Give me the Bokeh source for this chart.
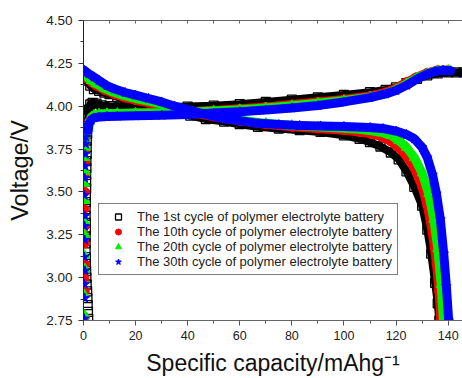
from bokeh.plotting import figure
from bokeh.models import Range1d, FixedTicker, LinearAxis, Legend, LegendItem
from bokeh.embed import file_html
from bokeh.resources import INLINE

# ---------------- data ----------------
x_ticks = [0, 20, 40, 60, 80, 100, 120, 140]
x_minor = [10, 30, 50, 70, 90, 110, 130]
y_ticks = [2.75, 3.00, 3.25, 3.50, 3.75, 4.00, 4.25, 4.50]
y_minor = [2.875, 3.125, 3.375, 3.625, 3.875, 4.125, 4.375]
y_tick_labels = ["2.75", "3.00", "3.25", "3.50", "3.75", "4.00", "4.25", "4.50"]

x_title = "Specific capacity/mAhg\u207b\u00b9"
y_title = "Voltage/V"
names = ["The 1st cycle of polymer electrolyte battery",
         "The 10th cycle of polymer electrolyte battery",
         "The 20th cycle of polymer electrolyte battery",
         "The 30th cycle of polymer electrolyte battery"]

# 1st cycle
c1_rise_cap = [1.8, 1.7, 1.6, 1.5, 1.4, 1.2, 1.1, 1.0, 0.9, 0.9, 0.8, 0.8, 0.8, 0.9, 0.9, 0.8,
               0.8, 0.9, 0.9, 1.0, 1.0, 1.0, 1.1, 1.1, 1.2, 1.2, 1.3, 1.4]
c1_rise_v = [2.76, 2.80, 2.84, 2.88, 2.92, 2.96, 3.00, 3.04, 3.08, 3.12, 3.16, 3.20, 3.24, 3.28,
             3.32, 3.36, 3.40, 3.44, 3.48, 3.52, 3.56, 3.60, 3.64, 3.68, 3.72, 3.76, 3.80, 3.84]
c1_chg_cap = [1.6, 1.8, 2.1, 2.6, 3.5, 5, 7, 10, 14, 20, 30, 40, 50, 60, 70, 80, 90, 100, 110,
              116, 120, 124, 128, 132, 136, 140, 143, 146]
c1_chg_v = [3.88, 3.93, 3.98, 4.01, 4.02, 4.015, 4.005, 4.0, 3.998, 3.997, 3.997, 3.998, 4.003,
            4.012, 4.025, 4.038, 4.052, 4.066, 4.082, 4.095, 4.11, 4.135, 4.16, 4.18, 4.192,
            4.197, 4.197, 4.197]
c1_dis_cap = [0.5, 1.5, 2.6, 4, 6, 8, 10, 13, 16, 20, 25, 30, 36, 41, 47, 54, 60, 67, 75, 83, 91,
              100, 106, 110, 114, 118, 121, 124, 127, 130, 132, 133.5, 135, 136, 136.6]
c1_dis_v = [4.16, 4.15, 4.12, 4.10, 4.09, 4.08, 4.07, 4.055, 4.045, 4.03, 4.01, 3.995, 3.968,
            3.945, 3.925, 3.91, 3.895, 3.88, 3.87, 3.86, 3.85, 3.83, 3.81, 3.79, 3.765, 3.73, 3.69,
            3.62, 3.53, 3.42, 3.28, 3.14, 2.97, 2.85, 2.75]

# 10th cycle
c10_rise_cap = [0.4, 0.5, 0.3, 0.6, 0.4, 0.5, 0.3, 0.6, 0.5, 0.7, 0.6, 0.8, 0.9, 1.1]
c10_rise_v = [2.77, 2.92, 3.00, 3.08, 3.20, 3.30, 3.40, 3.50, 3.60, 3.68, 3.75, 3.80, 3.84, 3.87]
c10_chg_cap = [1.8, 2.2, 3, 4, 6, 9, 13, 20, 30, 40, 50, 60, 70, 80, 90, 100, 110, 116, 120, 124,
               128, 132, 136, 140]
c10_chg_v = [3.87, 3.91, 3.935, 3.945, 3.952, 3.955, 3.957, 3.96, 3.963, 3.968, 3.975, 3.985,
             3.996, 4.01, 4.025, 4.04, 4.06, 4.08, 4.105, 4.14, 4.17, 4.195, 4.21, 4.21]
c10_dis_cap = [0.5, 1.5, 3, 5, 8, 12, 16, 20, 25, 30, 36, 42, 50, 60, 70, 80, 90, 100, 106, 110,
               114, 118, 121, 124, 127, 130, 132, 134, 135.5, 136.5, 137.2]
c10_dis_v = [4.17, 4.16, 4.14, 4.12, 4.095, 4.07, 4.05, 4.035, 4.02, 4.005, 3.985, 3.96, 3.94,
             3.915, 3.895, 3.88, 3.87, 3.86, 3.85, 3.84, 3.825, 3.795, 3.76, 3.71, 3.64, 3.53,
             3.42, 3.26, 3.08, 2.92, 2.75]

# 20th cycle
c20_rise_cap = [0.5, 0.3, 0.6, 0.4, 0.5, 0.3, 0.6, 0.4, 0.7, 0.5, 0.8, 0.9, 1.0, 1.2]
c20_rise_v = [2.78, 2.90, 3.05, 3.13, 3.25, 3.33, 3.45, 3.55, 3.62, 3.70, 3.76, 3.81, 3.85, 3.88]
c20_chg_cap = [1.8, 2.2, 3, 4, 6, 9, 13, 20, 30, 40, 50, 60, 70, 80, 90, 100, 110, 116, 120, 124,
               128, 132, 136, 140]
c20_chg_v = [3.87, 3.91, 3.935, 3.947, 3.954, 3.957, 3.958, 3.96, 3.962, 3.966, 3.972, 3.98,
             3.99, 4.003, 4.017, 4.033, 4.053, 4.072, 4.097, 4.13, 4.165, 4.19, 4.208, 4.21]
c20_dis_cap = [0.5, 1.5, 3, 5, 8, 12, 16, 20, 25, 30, 36, 42, 50, 60, 70, 80, 90, 100, 106, 110,
               114, 118, 121, 124, 127, 130, 132.5, 134.5, 136, 137.3, 138.2]
c20_dis_v = [4.18, 4.17, 4.15, 4.13, 4.105, 4.08, 4.06, 4.045, 4.03, 4.012, 3.99, 3.965, 3.945,
             3.92, 3.90, 3.888, 3.88, 3.872, 3.865, 3.858, 3.848, 3.83, 3.80, 3.76, 3.70, 3.61,
             3.49, 3.34, 3.17, 2.96, 2.75]

# 30th cycle
c30_rise_cap = [0.3, 0.5, 0.4, 0.6, 0.3, 0.5, 0.4, 0.6, 0.3, 0.5, 0.6, 0.7, 0.8, 0.9, 1.0, 1.2]
c30_rise_v = [2.76, 2.88, 2.96, 3.04, 3.12, 3.22, 3.30, 3.36, 3.48, 3.58, 3.65, 3.72, 3.78, 3.82,
              3.86, 3.89]
c30_chg_cap = [1.8, 2.2, 3, 4, 6, 9, 13, 20, 30, 40, 50, 60, 70, 80, 90, 100, 110, 116, 120, 124,
               128, 132, 135, 138, 141]
c30_chg_v = [3.86, 3.90, 3.922, 3.932, 3.937, 3.94, 3.942, 3.944, 3.947, 3.952, 3.96, 3.968,
             3.978, 3.99, 4.004, 4.025, 4.05, 4.072, 4.092, 4.122, 4.158, 4.188, 4.203, 4.21, 4.207]
c30_dis_cap = [0.3, 1, 2, 4, 6, 9, 12, 16, 20, 25, 30, 35, 40, 46, 53, 60, 67, 75, 83, 91, 100,
               110, 115, 120, 124, 127, 130, 132, 134, 135.5, 137, 138.3, 139.3, 140.2]
c30_dis_v = [4.21, 4.20, 4.19, 4.17, 4.15, 4.12, 4.10, 4.08, 4.065, 4.045, 4.025, 4.0, 3.98,
             3.955, 3.93, 3.915, 3.90, 3.893, 3.888, 3.885, 3.882, 3.876, 3.87, 3.855, 3.835,
             3.81, 3.76, 3.70, 3.60, 3.49, 3.34, 3.14, 2.95, 2.75]

# ---------------- figure ----------------
FONT = "Liberation Sans"
p = figure(width=462, height=378, output_backend="svg", toolbar_location=None,
           x_range=Range1d(0, 145.5), y_range=Range1d(2.75, 4.50),
           min_border_left=83, min_border_right=0, min_border_top=20, min_border_bottom=58)
p.grid.visible = False
p.outline_line_color = None
p.background_fill_color = "white"
p.border_fill_color = "white"

# bottom axis
xa = p.xaxis[0]
xa.ticker = FixedTicker(ticks=x_ticks, minor_ticks=x_minor)
xa.axis_line_color = "#666666"
xa.major_tick_line_color = "#555555"
xa.minor_tick_line_color = "#555555"
xa.major_tick_out = 5
xa.major_tick_in = 0
xa.minor_tick_out = 3
xa.minor_tick_in = 0
xa.major_label_standoff = 5
xa.major_label_text_font = FONT
xa.major_label_text_font_size = "12.5px"
xa.major_label_text_color = "#222222"
xa.axis_label = x_title
xa.axis_label_text_font = FONT
xa.axis_label_text_font_size = "23px"
xa.axis_label_text_font_style = "normal"
xa.axis_label_text_color = "#111111"
xa.axis_label_standoff = 7

# left axis
ya = p.yaxis[0]
ya.ticker = FixedTicker(ticks=y_ticks, minor_ticks=y_minor)
ya.major_label_overrides = {t: s for t, s in zip(y_ticks, y_tick_labels)}
ya.axis_line_color = "#222222"
ya.major_tick_line_color = "#333333"
ya.minor_tick_line_color = "#333333"
ya.major_tick_out = 5
ya.major_tick_in = 0
ya.minor_tick_out = 3
ya.minor_tick_in = 0
ya.major_label_standoff = 6
ya.major_label_text_font = FONT
ya.major_label_text_font_size = "13.5px"
ya.major_label_text_color = "#222222"
ya.axis_label = y_title
ya.axis_label_text_font = FONT
ya.axis_label_text_font_size = "23.5px"
ya.axis_label_text_font_style = "normal"
ya.axis_label_text_color = "#111111"
ya.axis_label_standoff = 10

# top mirror axis (inward ticks, empty labels)
top = LinearAxis(ticker=FixedTicker(ticks=x_ticks, minor_ticks=x_minor),
                 axis_line_color="#666666", major_tick_line_color="#666666",
                 minor_tick_line_color="#666666", major_tick_in=3, major_tick_out=0,
                 minor_tick_in=3, minor_tick_out=0, major_label_standoff=0,
                 major_label_text_font_size="10px",
                 major_label_overrides={t: "" for t in x_ticks})
p.add_layout(top, "above")

series = [
    (c1_rise_cap, c1_rise_v, c1_chg_cap, c1_chg_v, c1_dis_cap, c1_dis_v, "black", "square"),
    (c10_rise_cap, c10_rise_v, c10_chg_cap, c10_chg_v, c10_dis_cap, c10_dis_v, "#ff0000", "circle"),
    (c20_rise_cap, c20_rise_v, c20_chg_cap, c20_chg_v, c20_dis_cap, c20_dis_v, "#00ee00", "triangle"),
    (c30_rise_cap, c30_rise_v, c30_chg_cap, c30_chg_v, c30_dis_cap, c30_dis_v, "#0000ff", "star"),
]

legend_items = []
for i, (rc, rv, cc, cv, dc, dv, col, mk) in enumerate(series):
    hollow = (mk == "square")
    lw = 8 if hollow else 9
    size = 9 if mk in ("square", "circle") else 10
    for xs, ys in ((cc, cv), (dc, dv)):
        p.line(xs, ys, line_color=col, line_width=lw, line_join="round", line_cap="round")
    rend = None
    for xs, ys in ((rc, rv), (cc, cv), (dc, dv)):
        if hollow:
            r = p.scatter(xs, ys, marker=mk, size=size, fill_color=None, line_color=col,
                          line_width=1.3)
        else:
            r = p.scatter(xs, ys, marker=mk, size=size, fill_color=col, line_color=col,
                          line_width=1)
        if rend is None:
            rend = r
    legend_items.append(LegendItem(label=names[i], renderers=[rend]))

legend = Legend(items=legend_items, location=(15, 45), orientation="vertical",
                border_line_color="black", border_line_width=1, background_fill_color="white",
                background_fill_alpha=1.0, label_text_font=FONT, label_text_font_size="13px",
                label_text_color="#222222", glyph_width=28, glyph_height=15, label_height=15,
                spacing=0, padding=5, margin=0, label_standoff=5)
p.add_layout(legend)

open("out.html", "w").write(file_html(p, INLINE))
